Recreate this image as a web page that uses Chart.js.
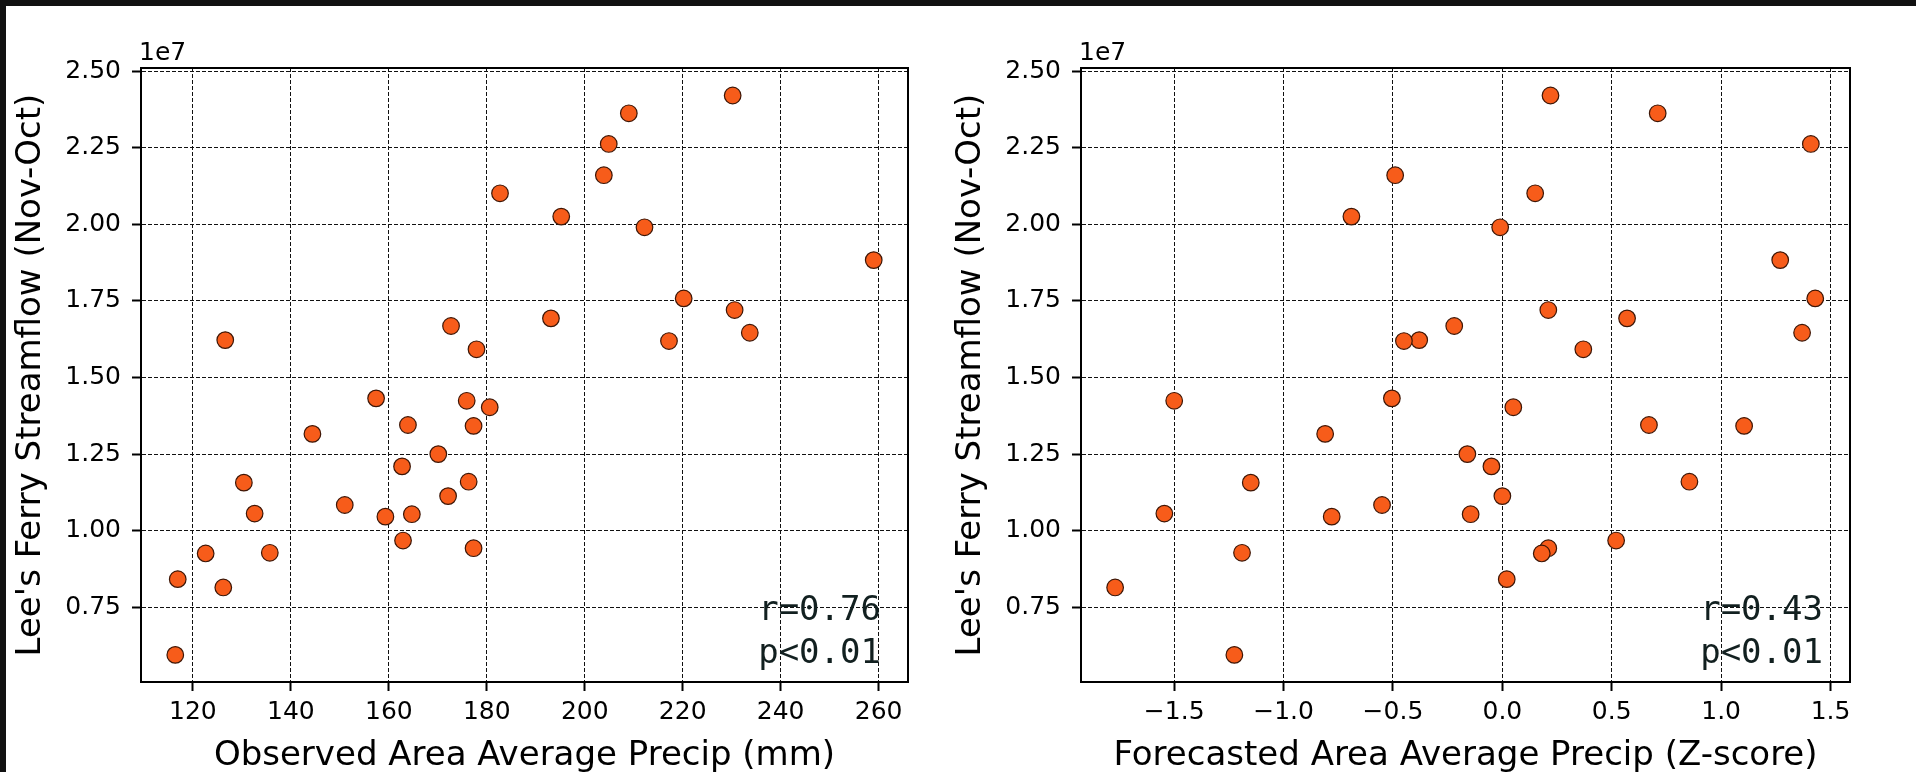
<!DOCTYPE html>
<html>
<head>
<meta charset="utf-8">
<script src="https://cdn.jsdelivr.net/npm/chart.js@4/dist/chart.umd.min.js"></script>
<style>
  html, body { margin: 0; padding: 0; background: #ffffff; overflow: hidden; }
  #wrap { position: relative; width: 1916px; height: 772px; background: #ffffff; }
  #topbar { position: absolute; left: 0; top: 0; width: 1916px; height: 6px; background: #111111; }
  #leftbar { position: absolute; left: 0; top: 0; width: 6px; height: 772px; background: #111111; }
  canvas { position: absolute; top: 0; }
  #c1 { left: 0; }
  #c2 { left: 940px; }
</style>
</head>
<body>
<div id="wrap">
  <canvas id="c1" width="958" height="772"></canvas>
  <canvas id="c2" width="976" height="772"></canvas>
  <div id="topbar"></div>
  <div id="leftbar"></div>
</div>
<script>
// ---- Data ----
// Lee's Ferry streamflow, Nov-Oct (units of 1e7)
const streamflow = [2.420, 2.362, 2.262, 2.160, 2.101, 2.025, 1.990, 1.883, 1.758, 1.720,
                    1.693, 1.668, 1.622, 1.619, 1.646, 1.592, 1.432, 1.424, 1.403, 1.345,
                    1.342, 1.316, 1.250, 1.210, 1.157, 1.160, 1.113, 1.084, 1.056, 1.046,
                    1.054, 0.968, 0.943, 0.926, 0.928, 0.842, 0.815, 0.595];
// Observed area average precip (mm)
const observedPrecip = [230.2, 209.0, 204.9, 203.9, 182.7, 195.2, 212.2, 259.0, 220.2, 230.6,
                        193.1, 172.7, 126.6, 217.2, 233.7, 177.9, 157.4, 175.9, 180.6, 163.9,
                        177.3, 144.4, 170.1, 162.7, 130.4, 176.3, 172.1, 151.0, 132.6, 159.3,
                        164.7, 162.9, 177.3, 122.6, 135.7, 116.9, 126.2, 116.4];
// Forecasted area average precip (Z-score)
const forecastPrecip = [0.22, 0.71, 1.41, -0.49, 0.15, -0.69, -0.01, 1.27, 1.43, 0.21,
                        0.57, -0.22, -0.38, -0.45, 1.37, 0.37, -0.505, -1.50, 0.05, 0.67,
                        1.105, -0.81, -0.16, -0.05, -1.15, 0.855, 0.00, -0.55, -1.545, -0.78,
                        -0.145, 0.52, 0.21, 0.18, -1.19, 0.02, -1.77, -1.225];

// Tick labels
const yTicks = [0.75, 1.00, 1.25, 1.50, 1.75, 2.00, 2.25, 2.50];
const xTicksObserved = [120, 140, 160, 180, 200, 220, 240, 260];
const xTicksForecast = [-1.5, -1.0, -0.5, 0.0, 0.5, 1.0, 1.5];

const yLabel = "Lee's Ferry Streamflow (Nov-Oct)";
const xLabelObserved = "Observed Area Average Precip (mm)";
const xLabelForecast = "Forecasted Area Average Precip (Z-score)";
const statsObserved = ["r=0.76", "p<0.01"];
const statsForecast = ["r=0.43", "p<0.01"];
const offsetText = "1e7";
const SCALE = 1e7;

// ---- Chart construction ----
const SANS = "'DejaVu Sans', 'Liberation Sans', sans-serif";
const MONO = "'DejaVu Sans Mono', 'Liberation Mono', monospace";

function fmtMinus(s) { return s.replace('-', '\u2212'); }

const framePlugin = {
  id: 'frame',
  afterDraw(chart, args, opts) {
    const ctx = chart.ctx;
    const a = chart.chartArea;
    ctx.save();
    ctx.strokeStyle = '#000';
    ctx.lineWidth = 2;
    ctx.strokeRect(a.left, a.top, a.right - a.left, a.bottom - a.top);
    // offset text "1e7"
    ctx.fillStyle = '#000';
    ctx.font = '25px ' + SANS;
    ctx.textAlign = 'left';
    ctx.textBaseline = 'alphabetic';
    ctx.fillText(opts.offsetText, a.left - 2, 60);
    // stats annotation
    ctx.font = '34px ' + MONO;
    ctx.fillStyle = '#122020';
    ctx.textAlign = 'right';
    ctx.fillText(opts.stats[0], a.right - 27, a.bottom - 62);
    ctx.fillText(opts.stats[1], a.right - 27, a.bottom - 19);
    ctx.restore();
  }
};

function makePanel(id, xData, xMin, xMax, xTicks, xFmt, xTitle, stats, padRight) {
  const points = xData.map((x, i) => ({ x: x, y: streamflow[i] * SCALE }));
  return new Chart(document.getElementById(id), {
    type: 'scatter',
    data: {
      datasets: [{
        data: points,
        pointRadius: 8.3,
        pointHoverRadius: 8.3,
        pointBackgroundColor: '#f75c1a',
        pointBorderColor: '#3d1606',
        pointBorderWidth: 1.2
      }]
    },
    options: {
      responsive: false,
      devicePixelRatio: 1,
      animation: false,
      events: [],
      layout: { autoPadding: false, padding: { left: 0, top: 68, right: padRight, bottom: 0 } },
      plugins: {
        legend: { display: false },
        tooltip: { enabled: false },
        frame: { offsetText: offsetText, stats: stats }
      },
      scales: {
        x: {
          type: 'linear',
          min: xMin,
          max: xMax,
          afterBuildTicks: (s) => { s.ticks = xTicks.map(v => ({ value: v })); },
          afterFit: (s) => { s.height = 90; },
          ticks: {
            callback: (v) => xFmt(v),
            font: { family: SANS, size: 25 },
            color: '#000',
            padding: 6,
            maxRotation: 0,
            autoSkip: false
          },
          grid: {
            color: '#111',
            lineWidth: 1,
            drawTicks: true,
            tickLength: 9,
            tickWidth: 2,
            tickColor: '#000',
            tickBorderDash: []
          },
          border: { display: true, color: '#000', width: 2, dash: [4, 2] },
          title: {
            display: true,
            text: xTitle,
            color: '#000',
            font: { family: SANS, size: 34, lineHeight: 1 },
            padding: { top: 0, bottom: -1 }
          }
        },
        y: {
          type: 'linear',
          min: 0.5065 * SCALE,
          max: 2.5098 * SCALE,
          afterBuildTicks: (s) => { s.ticks = yTicks.map(v => ({ value: v * SCALE })); },
          afterFit: (s) => { s.width = 141; },
          ticks: {
            callback: (v) => (v / SCALE).toFixed(2),
            font: { family: SANS, size: 25 },
            color: '#000',
            padding: 11,
            autoSkip: false
          },
          grid: {
            color: '#111',
            lineWidth: 1,
            drawTicks: true,
            tickLength: 9,
            tickWidth: 2,
            tickColor: '#000',
            tickBorderDash: []
          },
          border: { display: true, color: '#000', width: 2, dash: [4, 2] },
          title: {
            display: true,
            text: yLabel,
            color: '#000',
            font: { family: SANS, size: 34, lineHeight: 1 },
            padding: { top: 14, bottom: 0 }
          }
        }
      }
    },
    plugins: [framePlugin]
  });
}

makePanel('c1', observedPrecip, 109.4, 266.0, xTicksObserved,
          (v) => String(Math.round(v)), xLabelObserved, statsObserved, 50);
makePanel('c2', forecastPrecip, -1.926, 1.589, xTicksForecast,
          (v) => fmtMinus(v.toFixed(1)), xLabelForecast, statsForecast, 66);
</script>
</body>
</html>
